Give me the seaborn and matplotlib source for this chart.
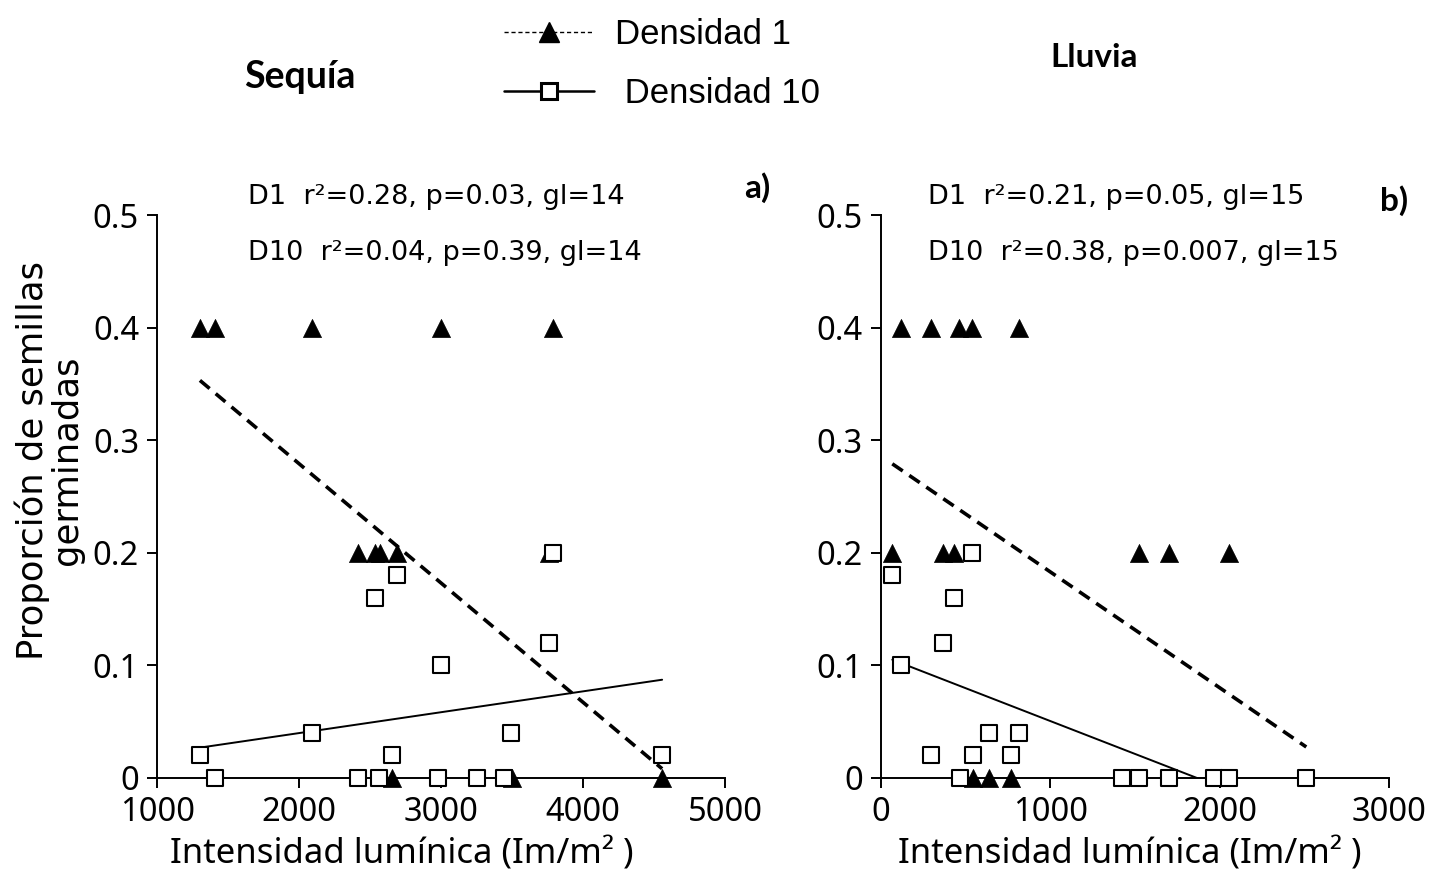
import numpy as np
import pandas as pd
import matplotlib
matplotlib.use("Agg")
import matplotlib.pyplot as plt
from matplotlib.lines import Line2D
import seaborn as sns

# ---- data ----
# a) Sequia
seq_d1_x = [1301, 1407, 2092, 2995, 3786, 2416, 2536, 2571, 2691, 3757, 2654, 3501, 4555]
seq_d1_y = [0.4, 0.4, 0.4, 0.4, 0.4, 0.2, 0.2, 0.2, 0.2, 0.2, 0.0, 0.0, 0.0]
seq_d10_x = [1301, 1407, 2092, 2416, 2565, 2650, 2691, 2536, 2995, 2978, 3254, 3442, 3494, 3760, 3784, 4555]
seq_d10_y = [0.02, 0.0, 0.04, 0.0, 0.0, 0.02, 0.18, 0.16, 0.10, 0.0, 0.0, 0.0, 0.04, 0.12, 0.20, 0.02]
# b) Lluvia
llu_d1_x = [120, 297, 464, 537, 816, 68, 370, 434, 1525, 1702, 2058, 547, 639, 769]
llu_d1_y = [0.4, 0.4, 0.4, 0.4, 0.4, 0.2, 0.2, 0.2, 0.2, 0.2, 0.2, 0.0, 0.0, 0.0]
llu_d10_x = [68, 537, 434, 366, 120, 639, 816, 297, 543, 769, 468, 1423, 1525, 1702, 1968, 2058, 2512]
llu_d10_y = [0.18, 0.20, 0.16, 0.12, 0.10, 0.04, 0.04, 0.02, 0.02, 0.02, 0.0, 0.0, 0.0, 0.0, 0.0, 0.0, 0.0]

# regression fits (intercept, slope)
seq_fit_d1 = (0.491, -1.06e-4)
seq_fit_d10 = (0.0028, 1.854e-5)
llu_fit_d1 = (0.286, -1.029e-4)
llu_fit_d10 = (0.109, -5.84e-5)

seq_stats = ["D1  r²=0.28, p=0.03, gl=14", "D10  r²=0.04, p=0.39, gl=14"]
llu_stats = ["D1  r²=0.21, p=0.05, gl=15", "D10  r²=0.38, p=0.007, gl=15"]

sns.set_style("ticks")
plt.rcParams['font.family'] = ['Noto Sans', 'DejaVu Sans']
plt.rcParams['text.color'] = 'black'
plt.rcParams['axes.labelcolor'] = 'black'
plt.rcParams['xtick.color'] = 'black'
plt.rcParams['ytick.color'] = 'black'
plt.rcParams['axes.edgecolor'] = 'black'
plt.rcParams['axes.linewidth'] = 1.4
plt.rcParams['xtick.major.width'] = 1.4
plt.rcParams['ytick.major.width'] = 1.4
plt.rcParams['xtick.major.size'] = 7
plt.rcParams['ytick.major.size'] = 7

fig = plt.figure(figsize=(14.42, 8.94), dpi=100)
ax1 = fig.add_axes([0.109, 0.1298, 0.394, 0.6297])
ax2 = fig.add_axes([0.6108, 0.1298, 0.3524, 0.6297])


def fit_line(xs, fit):
    xr = np.array([min(xs), max(xs)])
    return pd.DataFrame({"x": xr, "y": fit[0] + fit[1] * xr})


def panel(ax, d1x, d1y, d10x, d10y, f1, f10, xlim, xticks):
    allx = d1x + d10x
    l1 = fit_line(allx, f1)
    l10 = fit_line(allx, f10)
    sns.lineplot(data=l1, x="x", y="y", ax=ax, color="black", linewidth=2.6,
                 linestyle=(0, (3.5, 2.2)), zorder=2)
    sns.lineplot(data=l10, x="x", y="y", ax=ax, color="black", linewidth=1.4, zorder=2)
    sns.scatterplot(x=d1x, y=d1y, ax=ax, marker="^", color="black", s=170,
                    edgecolor="black", linewidth=0.5, zorder=3, clip_on=False)
    sns.scatterplot(x=d10x, y=d10y, ax=ax, marker="s", facecolor="white", s=140,
                    edgecolor="black", linewidth=1.5, zorder=4, clip_on=False)
    ax.set_xlim(*xlim)
    ax.set_ylim(0, 0.5)
    ax.set_xticks(xticks)
    ax.set_yticks([0, 0.1, 0.2, 0.3, 0.4, 0.5])
    ax.set_yticklabels(["0", "0.1", "0.2", "0.3", "0.4", "0.5"])
    ax.tick_params(labelsize=23.5, direction="out", pad=6)
    ax.set_xlabel("Intensidad lumínica (Im/m² )", fontsize=25, labelpad=4)
    ax.set_ylabel("")
    sns.despine(ax=ax)


panel(ax1, seq_d1_x, seq_d1_y, seq_d10_x, seq_d10_y, seq_fit_d1, seq_fit_d10,
      (1000, 5000), [1000, 2000, 3000, 4000, 5000])
panel(ax2, llu_d1_x, llu_d1_y, llu_d10_x, llu_d10_y, llu_fit_d1, llu_fit_d10,
      (0, 3000), [0, 1000, 2000, 3000])
ax1.xaxis.set_label_coords(0.43, -0.105)
ax2.xaxis.set_label_coords(0.49, -0.105)

fig.text(0.034, 0.485, "Proporción de semillas\ngerminadas", rotation=90,
         ha="center", va="center", fontsize=25.5, multialignment="center",
         family="DejaVu Sans", linespacing=1.0)

stat_font = {"family": "DejaVu Sans", "size": 19.5}
fig.text(0.172, 0.780, seq_stats[0], fontdict=stat_font, va="center")
fig.text(0.172, 0.717, seq_stats[1], fontdict=stat_font, va="center")
fig.text(0.6436, 0.780, llu_stats[0], fontdict=stat_font, va="center")
fig.text(0.6436, 0.717, llu_stats[1], fontdict=stat_font, va="center")

fig.text(0.525, 0.79, "a)", fontsize=24, fontweight="bold", family="Lato",
         ha="center", va="center")
fig.text(0.967, 0.776, "b)", fontsize=24, fontweight="bold", family="Lato",
         ha="center", va="center")
fig.text(0.208, 0.914, "Sequía", fontsize=27, fontweight="bold", family="Lato",
         ha="center", va="center")
fig.text(0.759, 0.936, "Lluvia", fontsize=24, fontweight="bold", family="Lato",
         ha="center", va="center")

handles = [
    Line2D([], [], color="black", linestyle=(0, (3, 2)), linewidth=1,
           marker="^", markersize=14, markerfacecolor="black"),
    Line2D([], [], color="black", linestyle="-", linewidth=1.8,
           marker="s", markersize=12, markerfacecolor="white", markeredgewidth=2.2),
]
fig.legend(handles, ["Densidad 1", " Densidad 10"], loc="upper left",
           bbox_to_anchor=(0.3275, 1.015), frameon=False,
           prop={"family": "Liberation Sans", "size": 25},
           handlelength=2.6, labelspacing=0.75, handletextpad=0.6)

fig.savefig("out.png", dpi=100)
